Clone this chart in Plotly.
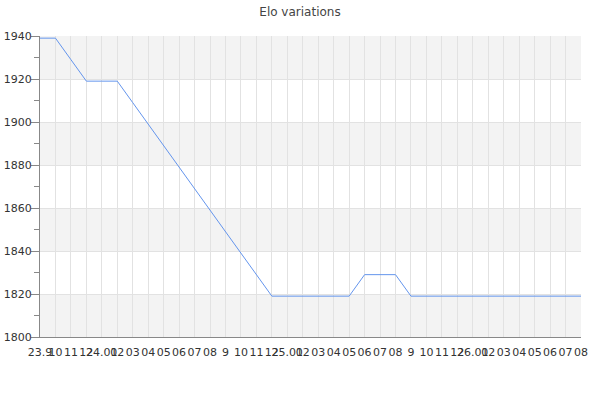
import plotly.graph_objects as go

month_labels = ["23.9", "10", "11", "12", "24.01", "02", "03", "04", "05", "06", "07", "08",
                "9", "10", "11", "12", "25.01", "02", "03", "04", "05", "06", "07", "08",
                "9", "10", "11", "12", "26.01", "02", "03", "04", "05", "06", "07", "08"]
elo = [1939, 1939, 1929, 1919, 1919, 1919, 1909, 1899, 1889, 1879, 1869, 1859,
       1849, 1839, 1829, 1819, 1819, 1819, 1819, 1819, 1819, 1829, 1829, 1829,
       1819, 1819, 1819, 1819, 1819, 1819, 1819, 1819, 1819, 1819, 1819, 1819]
band_starts = [1800, 1840, 1880, 1920]
band_height = 20
y_ticks = [1800, 1820, 1840, 1860, 1880, 1900, 1920, 1940]

x = list(range(len(month_labels)))

fig = go.Figure()
fig.add_trace(go.Scatter(x=x, y=elo, mode="lines",
                         line=dict(color="#6495ED", width=1), hoverinfo="skip"))

shapes = []
for b in band_starts:
    shapes.append(dict(type="rect", xref="paper", yref="y", x0=0, x1=1,
                       y0=b, y1=b + band_height, fillcolor="#f3f3f3",
                       line=dict(width=0), layer="below"))

fig.update_layout(
    width=600, height=400,
    margin=dict(l=40, r=19, t=36, b=63, autoexpand=False),
    paper_bgcolor="white", plot_bgcolor="white",
    showlegend=False,
    shapes=shapes,
    font=dict(family="DejaVu Sans", size=11, color="#333333"),
    title=dict(text="Elo variations", x=0.5, xanchor="center", xref="container",
               y=0.97, yref="container", yanchor="middle", automargin=False,
               font=dict(family="DejaVu Sans", size=12, color="#444444")),
    xaxis=dict(range=[0, len(month_labels) - 1], tickmode="array", tickvals=x,
               ticktext=month_labels, tickangle=0, showgrid=True, gridcolor="#e2e2e2",
               gridwidth=1, zeroline=False, showline=True, linecolor="#888888",
               linewidth=1, ticks="", ticklabelstandoff=5,
               tickfont=dict(size=11, color="#333333"),
               automargin=False, fixedrange=True),
    yaxis=dict(range=[1800, 1940], tickmode="array", tickvals=y_ticks,
               showgrid=True, gridcolor="#e2e2e2", gridwidth=1, zeroline=False,
               showline=True, linecolor="#888888", linewidth=1,
               ticks="outside", ticklen=8, tickcolor="#888888",
               minor=dict(dtick=10, ticks="outside", ticklen=5, tickcolor="#888888", showgrid=False),
               ticklabelstandoff=-3,
               tickfont=dict(size=11, color="#333333"), automargin=False, fixedrange=True),
)

fig.write_html("out.html", config={"displayModeBar": False},
               post_script="document.body.style.margin='0';document.body.style.overflow='hidden';")
